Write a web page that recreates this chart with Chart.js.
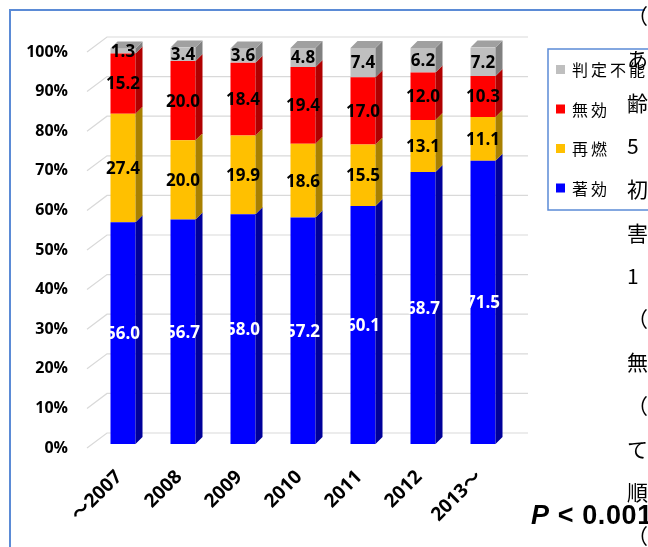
<!DOCTYPE html>
<html>
<head>
<meta charset="utf-8">
<script src="https://cdn.jsdelivr.net/npm/chart.js@4"></script>
<style>
  html, body { margin: 0; padding: 0; background: #fff; overflow: hidden; }
  #wrap { position: relative; width: 648px; height: 547px; overflow: hidden; }
  #frame { position: absolute; left: 9px; top: 9px; width: 634px; height: 600px;
           border-left: 2px solid #5b8bd6; border-top: 2px solid #5b8bd6; }
  #chart { position: absolute; left: 0; top: 0; }
  .side { position: absolute; left: 627px; font: 21px "Noto Sans CJK JP"; line-height: 22px; color: #000; white-space: nowrap; }
  #pval { position: absolute; left: 531px; top: 500px; font: bold 27px "Liberation Sans"; letter-spacing: 0.6px; color: #000; white-space: nowrap; }
</style>
</head>
<body>
<div id="wrap">
  <div id="frame"></div>
  <canvas id="chart" width="648" height="547"></canvas>
  <div id="pval"><i>P</i> &lt; 0.001</div>
</div>
<script>
// ── Data ─────────────────────────────────────────────────────
const years  = ['～2007', '2008', '2009', '2010', '2011', '2012', '2013～'];
const chokou = [56.0, 56.7, 58.0, 57.2, 60.1, 68.7, 71.5];   // 著効
const sainen = [27.4, 20.0, 19.9, 18.6, 15.5, 13.1, 11.1];   // 再燃
const mukou  = [15.2, 20.0, 18.4, 19.4, 17.0, 12.0, 10.3];   // 無効
const hantei = [1.3, 3.4, 3.6, 4.8, 7.4, 6.2, 7.2];          // 判定不能
const yTicks = [0, 10, 20, 30, 40, 50, 60, 70, 80, 90, 100];

// cropped slide text on the right edge
const sideChars = ['（', 'あ', '齢', '5', '初', '害', '1', '（', '無', '（', 'て', '順', '（'];

const wrap = document.getElementById('wrap');
sideChars.forEach((ch, i) => {
  const d = document.createElement('div');
  d.className = 'side';
  d.textContent = ch;
  d.style.top = (4 + i * 43.3) + 'px';
  wrap.appendChild(d);
});

// ── 3D look: back wall grid, side/top faces, labels, legend ──
const DX = 7, DY = 7;
const bar3d = {
  id: 'bar3d',
  beforeDatasetsDraw(chart) {
    const { ctx, chartArea: a, scales: { y } } = chart;
    ctx.save();
    ctx.strokeStyle = '#d9d9d9';
    ctx.lineWidth = 1.2;
    yTicks.forEach(v => {
      const py = y.getPixelForValue(v);
      ctx.beginPath();
      ctx.moveTo(a.left - 6, py + 4);
      ctx.lineTo(a.left + 14, py - 11);
      ctx.lineTo(a.right + 15, py - 11);
      ctx.stroke();
    });
    ctx.restore();
  },
  afterDatasetsDraw(chart) {
    const { ctx } = chart;
    const n = chart.data.datasets.length;
    ctx.save();
    chart.data.datasets.forEach((ds, di) => {
      chart.getDatasetMeta(di).data.forEach(bar => {
        const half = bar.width / 2;
        const r = bar.x + half, l = bar.x - half;
        const top = bar.y, bot = bar.base;
        ctx.fillStyle = ds.sideColor;
        ctx.beginPath();
        ctx.moveTo(r, top); ctx.lineTo(r + DX, top - DY);
        ctx.lineTo(r + DX, bot - DY); ctx.lineTo(r, bot);
        ctx.closePath(); ctx.fill();
        if (di === n - 1) {
          ctx.fillStyle = ds.topColor;
          ctx.beginPath();
          ctx.moveTo(l, top); ctx.lineTo(l + DX, top - DY);
          ctx.lineTo(r + DX, top - DY); ctx.lineTo(r, top);
          ctx.closePath(); ctx.fill();
        }
      });
    });
    // value labels
    ctx.font = 'bold 17px "Open Sans"';
    ctx.textAlign = 'center';
    ctx.textBaseline = 'middle';
    chart.data.datasets.forEach((ds, di) => {
      ctx.fillStyle = ds.labelColor;
      chart.getDatasetMeta(di).data.forEach((bar, i) => {
        ctx.fillText(ds.data[i].toFixed(1), bar.x, (bar.y + bar.base) / 2 + 1);
      });
    });
    // legend box
    ctx.strokeStyle = '#5b8bd6';
    ctx.lineWidth = 1.5;
    ctx.strokeRect(548, 49, 130, 161);
    ctx.font = '16px "Noto Sans CJK JP"';
    ctx.textAlign = 'left';
    chart.data.datasets.slice().reverse().forEach((ds, k) => {
      const cy = 69 + k * 39.5;
      ctx.fillStyle = ds.legendColor;
      ctx.fillRect(556, cy - 4, 9, 9);
      ctx.fillStyle = '#000';
      [...ds.label].forEach((ch, j) => ctx.fillText(ch, 572 + j * 19, cy + 1));
    });
    ctx.restore();
  }
};

new Chart(document.getElementById('chart'), {
  type: 'bar',
  data: {
    labels: years,
    datasets: [
      { label: '著効', data: chokou, backgroundColor: '#0000ff', sideColor: '#00009a',
        legendColor: '#0000ff', labelColor: '#ffffff' },
      { label: '再燃', data: sainen, backgroundColor: '#ffc000', sideColor: '#a88000',
        legendColor: '#ffc000', labelColor: '#000000' },
      { label: '無効', data: mukou, backgroundColor: '#ff0000', sideColor: '#b00000',
        legendColor: '#ff0000', labelColor: '#000000' },
      { label: '判定不能', data: hantei, backgroundColor: '#bfbfbf', sideColor: '#808080',
        topColor: '#a0a0a0', legendColor: '#bfbfbf', labelColor: '#000000' }
    ]
  },
  options: {
    responsive: false,
    animation: false,
    events: [],
    barPercentage: 25 / 60,
    categoryPercentage: 1,
    layout: { padding: { left: 0, top: 48, right: 135, bottom: 23 } },
    plugins: { legend: { display: false }, tooltip: { enabled: false } },
    scales: {
      x: {
        stacked: true,
        grid: { display: false, drawTicks: false },
        border: { display: false },
        ticks: {
          color: '#000', maxRotation: 45, minRotation: 45, padding: 22, labelOffset: -4,
          font: { family: '"Open Sans", "Noto Sans CJK JP"', weight: 'bold', size: 19 }
        },
        afterFit: s => { s.height = 80; }
      },
      y: {
        stacked: true, min: 0, max: 100,
        grid: { display: false, drawTicks: false },
        border: { display: false },
        ticks: {
          stepSize: 10, color: '#000', padding: 25, labelOffset: 4,
          callback: v => v + '%',
          font: { family: '"Open Sans"', weight: 'bold', size: 16 }
        },
        afterFit: s => { s.width = 93; }
      }
    }
  },
  plugins: [bar3d]
});
</script>
</body>
</html>
